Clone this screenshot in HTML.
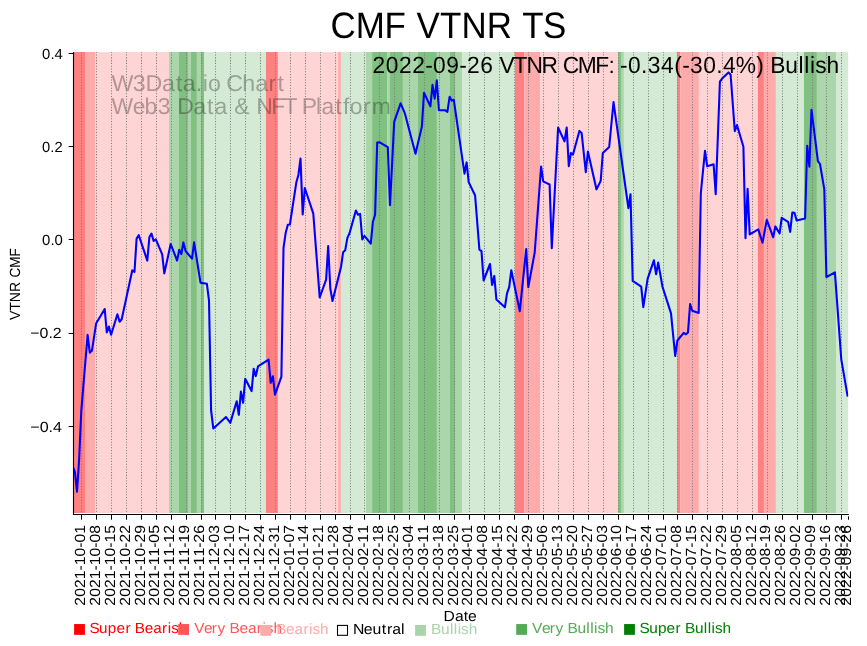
<!DOCTYPE html><html><head><meta charset="utf-8"><style>html,body{margin:0;padding:0;background:#fff;width:867px;height:646px;overflow:hidden}svg{display:block;will-change:transform}text{font-family:'Liberation Sans',sans-serif;text-rendering:geometricPrecision}</style></head><body>
<svg width="867" height="646" viewBox="0 0 867 646">
<rect x="0" y="0" width="867" height="646" fill="#fff"/>
<rect x="73.50" y="52.0" width="11.50" height="461.00" fill="#ff8080"/>
<rect x="85.00" y="52.0" width="10.00" height="461.00" fill="#ffabab"/>
<rect x="95.00" y="52.0" width="74.05" height="461.00" fill="#ffd4d4"/>
<rect x="169.05" y="52.0" width="9.98" height="461.00" fill="#abd5ab"/>
<rect x="179.03" y="52.0" width="8.94" height="461.00" fill="#80c080"/>
<rect x="187.97" y="52.0" width="3.06" height="461.00" fill="#abd5ab"/>
<rect x="191.03" y="52.0" width="5.87" height="461.00" fill="#80c080"/>
<rect x="196.90" y="52.0" width="4.10" height="461.00" fill="#abd5ab"/>
<rect x="201.00" y="52.0" width="3.00" height="461.00" fill="#80c080"/>
<rect x="204.00" y="52.0" width="62.00" height="461.00" fill="#d4ead4"/>
<rect x="266.00" y="52.0" width="11.90" height="461.00" fill="#ff8080"/>
<rect x="277.90" y="52.0" width="60.20" height="461.00" fill="#ffd4d4"/>
<rect x="338.10" y="52.0" width="2.80" height="461.00" fill="#ffabab"/>
<rect x="340.90" y="52.0" width="25.10" height="461.00" fill="#d4ead4"/>
<rect x="366.00" y="52.0" width="6.10" height="461.00" fill="#abd5ab"/>
<rect x="372.10" y="52.0" width="15.00" height="461.00" fill="#80c080"/>
<rect x="387.10" y="52.0" width="2.90" height="461.00" fill="#abd5ab"/>
<rect x="390.00" y="52.0" width="12.90" height="461.00" fill="#80c080"/>
<rect x="402.90" y="52.0" width="15.10" height="461.00" fill="#abd5ab"/>
<rect x="418.00" y="52.0" width="18.90" height="461.00" fill="#80c080"/>
<rect x="436.90" y="52.0" width="13.10" height="461.00" fill="#abd5ab"/>
<rect x="450.00" y="52.0" width="5.70" height="461.00" fill="#80c080"/>
<rect x="455.70" y="52.0" width="6.40" height="461.00" fill="#abd5ab"/>
<rect x="462.10" y="52.0" width="52.80" height="461.00" fill="#d4ead4"/>
<rect x="514.90" y="52.0" width="9.30" height="461.00" fill="#ff8080"/>
<rect x="524.20" y="52.0" width="15.80" height="461.00" fill="#ffabab"/>
<rect x="540.00" y="52.0" width="78.10" height="461.00" fill="#ffd4d4"/>
<rect x="618.10" y="52.0" width="2.90" height="461.00" fill="#80c080"/>
<rect x="621.00" y="52.0" width="2.90" height="461.00" fill="#abd5ab"/>
<rect x="623.90" y="52.0" width="53.20" height="461.00" fill="#d4ead4"/>
<rect x="677.10" y="52.0" width="3.10" height="461.00" fill="#ff8080"/>
<rect x="680.20" y="52.0" width="18.70" height="461.00" fill="#ffabab"/>
<rect x="698.90" y="52.0" width="59.00" height="461.00" fill="#ffd4d4"/>
<rect x="757.90" y="52.0" width="6.00" height="461.00" fill="#ff8080"/>
<rect x="763.90" y="52.0" width="12.00" height="461.00" fill="#ffabab"/>
<rect x="775.90" y="52.0" width="28.00" height="461.00" fill="#d4ead4"/>
<rect x="803.90" y="52.0" width="13.00" height="461.00" fill="#80c080"/>
<rect x="816.90" y="52.0" width="19.10" height="461.00" fill="#abd5ab"/>
<rect x="836.00" y="52.0" width="12.10" height="461.00" fill="#d4ead4"/>
<text transform="translate(112.11,90.90) scale(1.0120,1)" x="-0.66 20.52 33.09 49.23 62.77 69.92 82.69 89.46 94.78 107.55 112.91 128.52 141.36 154.46 163.36" y="0" font-size="22.96" fill="#000000" fill-opacity="0.3">W3Data.io Chart</text>
<text transform="translate(112.11,113.80) scale(0.9985,1)" x="-0.52 20.66 32.48 45.74 58.89 65.14 81.47 95.15 102.44 115.34 122.32 138.24 144.26 159.34 171.72 184.86 190.00 204.30 209.76 223.43 231.20 238.06 251.29 260.00" y="0" font-size="22.96" fill="#000000" fill-opacity="0.3">Web3 Data &amp; NFT Platform</text>
<line x1="81.50" y1="513.0" x2="81.50" y2="52.0" stroke="#7c7c7c" stroke-width="1.04" stroke-dasharray="1.04 1.725" stroke-dashoffset="1.6"/>
<line x1="96.50" y1="513.0" x2="96.50" y2="52.0" stroke="#7c7c7c" stroke-width="1.04" stroke-dasharray="1.04 1.725" stroke-dashoffset="1.6"/>
<line x1="111.50" y1="513.0" x2="111.50" y2="52.0" stroke="#7c7c7c" stroke-width="1.04" stroke-dasharray="1.04 1.725" stroke-dashoffset="1.6"/>
<line x1="126.50" y1="513.0" x2="126.50" y2="52.0" stroke="#7c7c7c" stroke-width="1.04" stroke-dasharray="1.04 1.725" stroke-dashoffset="1.6"/>
<line x1="141.50" y1="513.0" x2="141.50" y2="52.0" stroke="#7c7c7c" stroke-width="1.04" stroke-dasharray="1.04 1.725" stroke-dashoffset="1.6"/>
<line x1="156.50" y1="513.0" x2="156.50" y2="52.0" stroke="#7c7c7c" stroke-width="1.04" stroke-dasharray="1.04 1.725" stroke-dashoffset="1.6"/>
<line x1="171.50" y1="513.0" x2="171.50" y2="52.0" stroke="#7c7c7c" stroke-width="1.04" stroke-dasharray="1.04 1.725" stroke-dashoffset="1.6"/>
<line x1="186.50" y1="513.0" x2="186.50" y2="52.0" stroke="#7c7c7c" stroke-width="1.04" stroke-dasharray="1.04 1.725" stroke-dashoffset="1.6"/>
<line x1="201.50" y1="513.0" x2="201.50" y2="52.0" stroke="#7c7c7c" stroke-width="1.04" stroke-dasharray="1.04 1.725" stroke-dashoffset="1.6"/>
<line x1="215.50" y1="513.0" x2="215.50" y2="52.0" stroke="#7c7c7c" stroke-width="1.04" stroke-dasharray="1.04 1.725" stroke-dashoffset="1.6"/>
<line x1="230.50" y1="513.0" x2="230.50" y2="52.0" stroke="#7c7c7c" stroke-width="1.04" stroke-dasharray="1.04 1.725" stroke-dashoffset="1.6"/>
<line x1="245.50" y1="513.0" x2="245.50" y2="52.0" stroke="#7c7c7c" stroke-width="1.04" stroke-dasharray="1.04 1.725" stroke-dashoffset="1.6"/>
<line x1="260.50" y1="513.0" x2="260.50" y2="52.0" stroke="#7c7c7c" stroke-width="1.04" stroke-dasharray="1.04 1.725" stroke-dashoffset="1.6"/>
<line x1="275.50" y1="513.0" x2="275.50" y2="52.0" stroke="#7c7c7c" stroke-width="1.04" stroke-dasharray="1.04 1.725" stroke-dashoffset="1.6"/>
<line x1="290.50" y1="513.0" x2="290.50" y2="52.0" stroke="#7c7c7c" stroke-width="1.04" stroke-dasharray="1.04 1.725" stroke-dashoffset="1.6"/>
<line x1="305.50" y1="513.0" x2="305.50" y2="52.0" stroke="#7c7c7c" stroke-width="1.04" stroke-dasharray="1.04 1.725" stroke-dashoffset="1.6"/>
<line x1="320.50" y1="513.0" x2="320.50" y2="52.0" stroke="#7c7c7c" stroke-width="1.04" stroke-dasharray="1.04 1.725" stroke-dashoffset="1.6"/>
<line x1="335.50" y1="513.0" x2="335.50" y2="52.0" stroke="#7c7c7c" stroke-width="1.04" stroke-dasharray="1.04 1.725" stroke-dashoffset="1.6"/>
<line x1="350.50" y1="513.0" x2="350.50" y2="52.0" stroke="#7c7c7c" stroke-width="1.04" stroke-dasharray="1.04 1.725" stroke-dashoffset="1.6"/>
<line x1="364.50" y1="513.0" x2="364.50" y2="52.0" stroke="#7c7c7c" stroke-width="1.04" stroke-dasharray="1.04 1.725" stroke-dashoffset="1.6"/>
<line x1="379.50" y1="513.0" x2="379.50" y2="52.0" stroke="#7c7c7c" stroke-width="1.04" stroke-dasharray="1.04 1.725" stroke-dashoffset="1.6"/>
<line x1="394.50" y1="513.0" x2="394.50" y2="52.0" stroke="#7c7c7c" stroke-width="1.04" stroke-dasharray="1.04 1.725" stroke-dashoffset="1.6"/>
<line x1="409.50" y1="513.0" x2="409.50" y2="52.0" stroke="#7c7c7c" stroke-width="1.04" stroke-dasharray="1.04 1.725" stroke-dashoffset="1.6"/>
<line x1="424.50" y1="513.0" x2="424.50" y2="52.0" stroke="#7c7c7c" stroke-width="1.04" stroke-dasharray="1.04 1.725" stroke-dashoffset="1.6"/>
<line x1="439.50" y1="513.0" x2="439.50" y2="52.0" stroke="#7c7c7c" stroke-width="1.04" stroke-dasharray="1.04 1.725" stroke-dashoffset="1.6"/>
<line x1="454.50" y1="513.0" x2="454.50" y2="52.0" stroke="#7c7c7c" stroke-width="1.04" stroke-dasharray="1.04 1.725" stroke-dashoffset="1.6"/>
<line x1="469.50" y1="513.0" x2="469.50" y2="52.0" stroke="#7c7c7c" stroke-width="1.04" stroke-dasharray="1.04 1.725" stroke-dashoffset="1.6"/>
<line x1="484.50" y1="513.0" x2="484.50" y2="52.0" stroke="#7c7c7c" stroke-width="1.04" stroke-dasharray="1.04 1.725" stroke-dashoffset="1.6"/>
<line x1="499.50" y1="513.0" x2="499.50" y2="52.0" stroke="#7c7c7c" stroke-width="1.04" stroke-dasharray="1.04 1.725" stroke-dashoffset="1.6"/>
<line x1="514.50" y1="513.0" x2="514.50" y2="52.0" stroke="#7c7c7c" stroke-width="1.04" stroke-dasharray="1.04 1.725" stroke-dashoffset="1.6"/>
<line x1="528.50" y1="513.0" x2="528.50" y2="52.0" stroke="#7c7c7c" stroke-width="1.04" stroke-dasharray="1.04 1.725" stroke-dashoffset="1.6"/>
<line x1="543.50" y1="513.0" x2="543.50" y2="52.0" stroke="#7c7c7c" stroke-width="1.04" stroke-dasharray="1.04 1.725" stroke-dashoffset="1.6"/>
<line x1="558.50" y1="513.0" x2="558.50" y2="52.0" stroke="#7c7c7c" stroke-width="1.04" stroke-dasharray="1.04 1.725" stroke-dashoffset="1.6"/>
<line x1="573.50" y1="513.0" x2="573.50" y2="52.0" stroke="#7c7c7c" stroke-width="1.04" stroke-dasharray="1.04 1.725" stroke-dashoffset="1.6"/>
<line x1="588.50" y1="513.0" x2="588.50" y2="52.0" stroke="#7c7c7c" stroke-width="1.04" stroke-dasharray="1.04 1.725" stroke-dashoffset="1.6"/>
<line x1="603.50" y1="513.0" x2="603.50" y2="52.0" stroke="#7c7c7c" stroke-width="1.04" stroke-dasharray="1.04 1.725" stroke-dashoffset="1.6"/>
<line x1="618.50" y1="513.0" x2="618.50" y2="52.0" stroke="#7c7c7c" stroke-width="1.04" stroke-dasharray="1.04 1.725" stroke-dashoffset="1.6"/>
<line x1="633.50" y1="513.0" x2="633.50" y2="52.0" stroke="#7c7c7c" stroke-width="1.04" stroke-dasharray="1.04 1.725" stroke-dashoffset="1.6"/>
<line x1="648.50" y1="513.0" x2="648.50" y2="52.0" stroke="#7c7c7c" stroke-width="1.04" stroke-dasharray="1.04 1.725" stroke-dashoffset="1.6"/>
<line x1="663.50" y1="513.0" x2="663.50" y2="52.0" stroke="#7c7c7c" stroke-width="1.04" stroke-dasharray="1.04 1.725" stroke-dashoffset="1.6"/>
<line x1="677.50" y1="513.0" x2="677.50" y2="52.0" stroke="#7c7c7c" stroke-width="1.04" stroke-dasharray="1.04 1.725" stroke-dashoffset="1.6"/>
<line x1="692.50" y1="513.0" x2="692.50" y2="52.0" stroke="#7c7c7c" stroke-width="1.04" stroke-dasharray="1.04 1.725" stroke-dashoffset="1.6"/>
<line x1="707.50" y1="513.0" x2="707.50" y2="52.0" stroke="#7c7c7c" stroke-width="1.04" stroke-dasharray="1.04 1.725" stroke-dashoffset="1.6"/>
<line x1="722.50" y1="513.0" x2="722.50" y2="52.0" stroke="#7c7c7c" stroke-width="1.04" stroke-dasharray="1.04 1.725" stroke-dashoffset="1.6"/>
<line x1="737.50" y1="513.0" x2="737.50" y2="52.0" stroke="#7c7c7c" stroke-width="1.04" stroke-dasharray="1.04 1.725" stroke-dashoffset="1.6"/>
<line x1="752.50" y1="513.0" x2="752.50" y2="52.0" stroke="#7c7c7c" stroke-width="1.04" stroke-dasharray="1.04 1.725" stroke-dashoffset="1.6"/>
<line x1="767.50" y1="513.0" x2="767.50" y2="52.0" stroke="#7c7c7c" stroke-width="1.04" stroke-dasharray="1.04 1.725" stroke-dashoffset="1.6"/>
<line x1="782.50" y1="513.0" x2="782.50" y2="52.0" stroke="#7c7c7c" stroke-width="1.04" stroke-dasharray="1.04 1.725" stroke-dashoffset="1.6"/>
<line x1="797.50" y1="513.0" x2="797.50" y2="52.0" stroke="#7c7c7c" stroke-width="1.04" stroke-dasharray="1.04 1.725" stroke-dashoffset="1.6"/>
<line x1="812.50" y1="513.0" x2="812.50" y2="52.0" stroke="#7c7c7c" stroke-width="1.04" stroke-dasharray="1.04 1.725" stroke-dashoffset="1.6"/>
<line x1="826.50" y1="513.0" x2="826.50" y2="52.0" stroke="#7c7c7c" stroke-width="1.04" stroke-dasharray="1.04 1.725" stroke-dashoffset="1.6"/>
<line x1="841.50" y1="513.0" x2="841.50" y2="52.0" stroke="#7c7c7c" stroke-width="1.04" stroke-dasharray="1.04 1.725" stroke-dashoffset="1.6"/>
<clipPath id="ax"><rect x="73.5" y="52.0" width="774.8" height="462.0"/></clipPath>
<path d="M72.7,466.0 L74.9,472.0 L77.0,491.8 L79.1,460.0 L81.3,410.8 L87.6,334.8 L89.8,352.6 L91.9,350.8 L96.2,323.2 L100.4,316.2 L104.7,309.0 L106.8,332.5 L108.9,326.6 L111.1,334.8 L117.4,314.2 L119.6,321.7 L121.7,319.3 L132.3,270.3 L134.5,271.9 L136.6,238.6 L138.7,235.2 L140.9,241.7 L147.3,260.6 L149.4,237.0 L151.5,233.6 L153.6,240.9 L155.8,239.3 L162.2,254.4 L164.3,273.4 L170.7,244.0 L177.1,260.6 L179.2,249.7 L181.3,254.1 L183.4,242.4 L185.6,251.0 L192.0,258.7 L194.1,242.4 L200.5,282.7 L206.9,283.8 L209.0,300.5 L211.1,410.5 L213.3,428.4 L226.0,417.0 L230.3,422.9 L236.7,401.2 L238.8,414.8 L240.9,391.6 L243.1,402.8 L245.2,378.8 L251.6,391.1 L253.7,368.7 L255.8,376.1 L258.0,366.4 L268.6,359.6 L270.7,382.8 L272.9,376.2 L275.0,394.7 L281.4,376.6 L283.5,248.0 L285.6,233.3 L287.8,224.8 L289.9,224.5 L296.3,182.6 L298.4,174.9 L300.5,158.6 L302.7,214.4 L304.8,188.0 L313.3,213.6 L319.7,297.5 L326.1,279.7 L328.2,246.1 L330.3,288.5 L332.5,301.0 L341.0,267.0 L343.1,252.3 L345.2,250.3 L347.4,237.9 L349.5,233.3 L355.9,210.5 L358.0,214.7 L360.1,213.9 L362.3,239.5 L364.4,235.9 L370.8,243.7 L372.9,221.7 L375.1,214.7 L377.2,142.5 L379.3,142.2 L387.8,147.2 L390.0,205.2 L394.2,121.9 L400.6,103.3 L404.9,113.4 L415.5,153.7 L421.9,126.6 L424.0,92.8 L430.4,106.4 L432.5,84.8 L434.7,98.7 L436.8,80.4 L438.9,110.3 L445.3,110.3 L447.4,111.9 L449.6,96.8 L451.7,100.6 L453.8,99.9 L464.5,173.6 L466.6,162.4 L468.7,182.1 L475.1,195.5 L479.4,249.7 L481.5,251.2 L483.6,280.5 L490.0,264.0 L492.1,284.9 L494.3,275.9 L496.4,299.6 L504.9,307.3 L507.0,293.4 L509.2,287.2 L511.3,270.2 L519.8,311.2 L526.2,249.0 L528.3,287.2 L534.7,252.5 L541.1,166.5 L543.2,181.4 L549.6,184.5 L551.8,248.2 L558.1,127.5 L564.5,141.4 L566.7,127.5 L568.8,166.2 L570.9,153.0 L573.0,154.6 L579.4,130.9 L581.6,132.9 L585.8,172.1 L587.9,151.5 L596.5,189.4 L600.7,180.9 L602.8,153.0 L609.2,147.0 L613.5,102.0 L628.4,208.2 L630.5,194.3 L632.7,280.9 L641.2,286.6 L643.3,307.2 L647.6,278.9 L653.9,260.3 L656.1,274.2 L658.2,262.6 L662.5,286.8 L671.0,313.4 L675.2,356.0 L677.4,340.5 L683.7,332.8 L685.9,334.3 L688.0,332.4 L690.1,304.1 L692.3,310.8 L698.7,312.9 L700.8,193.3 L705.0,150.7 L707.2,166.3 L713.6,164.2 L715.7,194.1 L719.9,81.7 L722.1,78.6 L728.5,72.4 L730.6,74.7 L734.8,131.2 L737.0,125.0 L743.4,146.7 L745.5,238.2 L747.6,188.7 L749.7,234.4 L758.3,229.4 L762.5,242.8 L766.8,219.9 L773.2,237.3 L775.3,226.4 L779.6,233.4 L781.7,217.9 L788.1,221.8 L790.2,231.9 L792.3,212.5 L794.5,212.8 L796.6,220.6 L805.1,218.4 L807.2,145.7 L809.4,166.6 L811.5,109.8 L817.9,161.2 L820.0,164.0 L824.3,189.3 L826.4,277.1 L834.9,272.3 L841.3,359.6 L847.7,396.6" fill="none" stroke="#0000ff" stroke-width="2.08" stroke-linejoin="round" stroke-linecap="butt" clip-path="url(#ax)"/>
<line x1="73.5" y1="52.0" x2="73.5" y2="515.05" stroke="#000" stroke-width="1.11"/>
<line x1="72.95" y1="514.5" x2="848.8499999999999" y2="514.5" stroke="#000" stroke-width="1.11"/>
<line x1="68.64" y1="53.50" x2="73.5" y2="53.50" stroke="#000" stroke-width="1"/>
<text x="42.10" y="58.90" font-size="14.72" fill="#000" textLength="20.71" lengthAdjust="spacingAndGlyphs" >0.4</text>
<line x1="68.64" y1="146.50" x2="73.5" y2="146.50" stroke="#000" stroke-width="1"/>
<text x="42.11" y="151.90" font-size="14.72" fill="#000" textLength="20.46" lengthAdjust="spacingAndGlyphs" >0.2</text>
<line x1="68.64" y1="239.50" x2="73.5" y2="239.50" stroke="#000" stroke-width="1"/>
<text x="42.10" y="244.90" font-size="14.72" fill="#000" textLength="20.73" lengthAdjust="spacingAndGlyphs" >0.0</text>
<line x1="68.64" y1="333.50" x2="73.5" y2="333.50" stroke="#000" stroke-width="1"/>
<text x="30.30" y="337.90" font-size="14.72" fill="#000" textLength="31.44" lengthAdjust="spacingAndGlyphs" >−0.2</text>
<line x1="68.64" y1="426.50" x2="73.5" y2="426.50" stroke="#000" stroke-width="1"/>
<text x="30.30" y="431.80" font-size="14.72" fill="#000" textLength="31.66" lengthAdjust="spacingAndGlyphs" >−0.4</text>
<line x1="81.50" y1="514.5" x2="81.50" y2="519.7" stroke="#000" stroke-width="1.04"/>
<text transform="translate(84.93,605.71) rotate(-90) scale(1.0623,1)" x="0.07 8.39 16.70 25.02 33.18 38.06 46.38 54.54 59.42 67.73" y="0" font-size="14.72" fill="#000" >2021-10-01</text>
<line x1="96.50" y1="514.5" x2="96.50" y2="519.7" stroke="#000" stroke-width="1.04"/>
<text transform="translate(99.83,605.71) rotate(-90) scale(1.0654,1)" x="0.05 8.35 16.64 24.94 33.08 37.93 46.23 54.37 59.23 67.52" y="0" font-size="14.72" fill="#000" >2021-10-08</text>
<line x1="111.50" y1="514.5" x2="111.50" y2="519.7" stroke="#000" stroke-width="1.04"/>
<text transform="translate(114.74,605.71) rotate(-90) scale(1.0616,1)" x="0.07 8.39 16.72 25.04 33.21 38.09 46.41 54.57 59.45 67.78" y="0" font-size="14.72" fill="#000" >2021-10-15</text>
<line x1="126.50" y1="514.5" x2="126.50" y2="519.7" stroke="#000" stroke-width="1.04"/>
<text transform="translate(129.64,605.71) rotate(-90) scale(1.0614,1)" x="0.07 8.40 16.72 25.05 33.21 38.10 46.42 54.59 59.47 67.79" y="0" font-size="14.72" fill="#000" >2021-10-22</text>
<line x1="141.50" y1="514.5" x2="141.50" y2="519.7" stroke="#000" stroke-width="1.04"/>
<text transform="translate(144.54,605.71) rotate(-90) scale(1.0655,1)" x="0.05 8.35 16.64 24.93 33.08 37.93 46.23 54.37 59.22 67.52" y="0" font-size="14.72" fill="#000" >2021-10-29</text>
<line x1="156.50" y1="514.5" x2="156.50" y2="519.7" stroke="#000" stroke-width="1.04"/>
<text transform="translate(159.44,605.71) rotate(-90) scale(1.0777,1)" x="0.01 8.21 16.41 24.61 32.67 37.46 45.66 53.72 58.51 66.71" y="0" font-size="14.72" fill="#000" >2021-11-05</text>
<line x1="171.50" y1="514.5" x2="171.50" y2="519.7" stroke="#000" stroke-width="1.04"/>
<text transform="translate(174.35,605.71) rotate(-90) scale(1.0775,1)" x="0.01 8.21 16.41 24.61 32.68 37.46 45.67 53.73 58.52 66.72" y="0" font-size="14.72" fill="#000" >2021-11-12</text>
<line x1="186.50" y1="514.5" x2="186.50" y2="519.7" stroke="#000" stroke-width="1.04"/>
<text transform="translate(189.25,605.71) rotate(-90) scale(1.0816,1)" x="-0.01 8.16 16.33 24.50 32.54 37.30 45.47 53.52 58.28 66.45" y="0" font-size="14.72" fill="#000" >2021-11-19</text>
<line x1="201.50" y1="514.5" x2="201.50" y2="519.7" stroke="#000" stroke-width="1.04"/>
<text transform="translate(204.15,605.71) rotate(-90) scale(1.0825,1)" x="-0.01 8.15 16.31 24.48 32.52 37.27 45.43 53.47 58.23 66.39" y="0" font-size="14.72" fill="#000" >2021-11-26</text>
<line x1="215.50" y1="514.5" x2="215.50" y2="519.7" stroke="#000" stroke-width="1.04"/>
<text transform="translate(219.05,605.71) rotate(-90) scale(1.0635,1)" x="0.06 8.37 16.68 24.99 33.14 38.01 46.32 54.47 59.34 67.65" y="0" font-size="14.72" fill="#000" >2021-12-03</text>
<line x1="230.50" y1="514.5" x2="230.50" y2="519.7" stroke="#000" stroke-width="1.04"/>
<text transform="translate(233.96,605.71) rotate(-90) scale(1.0648,1)" x="0.06 8.36 16.65 24.95 33.10 37.96 46.26 54.40 59.26 67.56" y="0" font-size="14.72" fill="#000" >2021-12-10</text>
<line x1="245.50" y1="514.5" x2="245.50" y2="519.7" stroke="#000" stroke-width="1.04"/>
<text transform="translate(248.86,605.71) rotate(-90) scale(1.0637,1)" x="0.06 8.37 16.68 24.98 33.13 38.00 46.31 54.46 59.33 67.64" y="0" font-size="14.72" fill="#000" >2021-12-17</text>
<line x1="260.50" y1="514.5" x2="260.50" y2="519.7" stroke="#000" stroke-width="1.04"/>
<text transform="translate(263.76,605.71) rotate(-90) scale(1.0646,1)" x="0.06 8.36 16.66 24.96 33.11 37.97 46.27 54.41 59.28 67.58" y="0" font-size="14.72" fill="#000" >2021-12-24</text>
<line x1="275.50" y1="514.5" x2="275.50" y2="519.7" stroke="#000" stroke-width="1.04"/>
<text transform="translate(278.66,605.71) rotate(-90) scale(1.0623,1)" x="0.07 8.39 16.70 25.02 33.18 38.06 46.38 54.54 59.42 67.73" y="0" font-size="14.72" fill="#000" >2021-12-31</text>
<line x1="290.50" y1="514.5" x2="290.50" y2="519.7" stroke="#000" stroke-width="1.04"/>
<text transform="translate(293.57,605.71) rotate(-90) scale(1.0637,1)" x="0.06 8.37 16.68 24.98 33.13 38.00 46.31 54.46 59.33 67.64" y="0" font-size="14.72" fill="#000" >2022-01-07</text>
<line x1="305.50" y1="514.5" x2="305.50" y2="519.7" stroke="#000" stroke-width="1.04"/>
<text transform="translate(308.47,605.71) rotate(-90) scale(1.0646,1)" x="0.06 8.36 16.66 24.96 33.11 37.97 46.27 54.41 59.28 67.58" y="0" font-size="14.72" fill="#000" >2022-01-14</text>
<line x1="320.50" y1="514.5" x2="320.50" y2="519.7" stroke="#000" stroke-width="1.04"/>
<text transform="translate(323.37,605.71) rotate(-90) scale(1.0623,1)" x="0.07 8.39 16.70 25.02 33.18 38.06 46.38 54.54 59.42 67.73" y="0" font-size="14.72" fill="#000" >2022-01-21</text>
<line x1="335.50" y1="514.5" x2="335.50" y2="519.7" stroke="#000" stroke-width="1.04"/>
<text transform="translate(338.28,605.71) rotate(-90) scale(1.0654,1)" x="0.05 8.35 16.64 24.94 33.08 37.93 46.23 54.37 59.23 67.52" y="0" font-size="14.72" fill="#000" >2022-01-28</text>
<line x1="350.50" y1="514.5" x2="350.50" y2="519.7" stroke="#000" stroke-width="1.04"/>
<text transform="translate(353.18,605.71) rotate(-90) scale(1.0646,1)" x="0.06 8.36 16.66 24.96 33.11 37.97 46.27 54.41 59.28 67.58" y="0" font-size="14.72" fill="#000" >2022-02-04</text>
<line x1="364.50" y1="514.5" x2="364.50" y2="519.7" stroke="#000" stroke-width="1.04"/>
<text transform="translate(368.08,605.71) rotate(-90) scale(1.0784,1)" x="0.00 8.20 16.39 24.59 32.65 37.43 45.62 53.69 58.47 66.66" y="0" font-size="14.72" fill="#000" >2022-02-11</text>
<line x1="379.50" y1="514.5" x2="379.50" y2="519.7" stroke="#000" stroke-width="1.04"/>
<text transform="translate(382.98,605.71) rotate(-90) scale(1.0654,1)" x="0.05 8.35 16.64 24.94 33.08 37.93 46.23 54.37 59.23 67.52" y="0" font-size="14.72" fill="#000" >2022-02-18</text>
<line x1="394.50" y1="514.5" x2="394.50" y2="519.7" stroke="#000" stroke-width="1.04"/>
<text transform="translate(397.89,605.71) rotate(-90) scale(1.0616,1)" x="0.07 8.39 16.72 25.04 33.21 38.09 46.41 54.57 59.45 67.78" y="0" font-size="14.72" fill="#000" >2022-02-25</text>
<line x1="409.50" y1="514.5" x2="409.50" y2="519.7" stroke="#000" stroke-width="1.04"/>
<text transform="translate(412.79,605.71) rotate(-90) scale(1.0646,1)" x="0.06 8.36 16.66 24.96 33.11 37.97 46.27 54.41 59.28 67.58" y="0" font-size="14.72" fill="#000" >2022-03-04</text>
<line x1="424.50" y1="514.5" x2="424.50" y2="519.7" stroke="#000" stroke-width="1.04"/>
<text transform="translate(427.69,605.71) rotate(-90) scale(1.0784,1)" x="0.00 8.20 16.39 24.59 32.65 37.43 45.62 53.69 58.47 66.66" y="0" font-size="14.72" fill="#000" >2022-03-11</text>
<line x1="439.50" y1="514.5" x2="439.50" y2="519.7" stroke="#000" stroke-width="1.04"/>
<text transform="translate(442.59,605.71) rotate(-90) scale(1.0654,1)" x="0.05 8.35 16.64 24.94 33.08 37.93 46.23 54.37 59.23 67.52" y="0" font-size="14.72" fill="#000" >2022-03-18</text>
<line x1="454.50" y1="514.5" x2="454.50" y2="519.7" stroke="#000" stroke-width="1.04"/>
<text transform="translate(457.50,605.71) rotate(-90) scale(1.0616,1)" x="0.07 8.39 16.72 25.04 33.21 38.09 46.41 54.57 59.45 67.78" y="0" font-size="14.72" fill="#000" >2022-03-25</text>
<line x1="469.50" y1="514.5" x2="469.50" y2="519.7" stroke="#000" stroke-width="1.04"/>
<text transform="translate(472.40,605.71) rotate(-90) scale(1.0623,1)" x="0.07 8.39 16.70 25.02 33.18 38.06 46.38 54.54 59.42 67.73" y="0" font-size="14.72" fill="#000" >2022-04-01</text>
<line x1="484.50" y1="514.5" x2="484.50" y2="519.7" stroke="#000" stroke-width="1.04"/>
<text transform="translate(487.30,605.71) rotate(-90) scale(1.0654,1)" x="0.05 8.35 16.64 24.94 33.08 37.93 46.23 54.37 59.23 67.52" y="0" font-size="14.72" fill="#000" >2022-04-08</text>
<line x1="499.50" y1="514.5" x2="499.50" y2="519.7" stroke="#000" stroke-width="1.04"/>
<text transform="translate(502.20,605.71) rotate(-90) scale(1.0616,1)" x="0.07 8.39 16.72 25.04 33.21 38.09 46.41 54.57 59.45 67.78" y="0" font-size="14.72" fill="#000" >2022-04-15</text>
<line x1="514.50" y1="514.5" x2="514.50" y2="519.7" stroke="#000" stroke-width="1.04"/>
<text transform="translate(517.11,605.71) rotate(-90) scale(1.0614,1)" x="0.07 8.40 16.72 25.05 33.21 38.10 46.42 54.59 59.47 67.79" y="0" font-size="14.72" fill="#000" >2022-04-22</text>
<line x1="528.50" y1="514.5" x2="528.50" y2="519.7" stroke="#000" stroke-width="1.04"/>
<text transform="translate(532.01,605.71) rotate(-90) scale(1.0655,1)" x="0.05 8.35 16.64 24.93 33.08 37.93 46.23 54.37 59.22 67.52" y="0" font-size="14.72" fill="#000" >2022-04-29</text>
<line x1="543.50" y1="514.5" x2="543.50" y2="519.7" stroke="#000" stroke-width="1.04"/>
<text transform="translate(546.91,605.71) rotate(-90) scale(1.0664,1)" x="0.05 8.34 16.62 24.91 33.05 37.90 46.18 54.32 59.17 67.46" y="0" font-size="14.72" fill="#000" >2022-05-06</text>
<line x1="558.50" y1="514.5" x2="558.50" y2="519.7" stroke="#000" stroke-width="1.04"/>
<text transform="translate(561.81,605.71) rotate(-90) scale(1.0635,1)" x="0.06 8.37 16.68 24.99 33.14 38.01 46.32 54.47 59.34 67.65" y="0" font-size="14.72" fill="#000" >2022-05-13</text>
<line x1="573.50" y1="514.5" x2="573.50" y2="519.7" stroke="#000" stroke-width="1.04"/>
<text transform="translate(576.72,605.71) rotate(-90) scale(1.0648,1)" x="0.06 8.36 16.65 24.95 33.10 37.96 46.26 54.40 59.26 67.56" y="0" font-size="14.72" fill="#000" >2022-05-20</text>
<line x1="588.50" y1="514.5" x2="588.50" y2="519.7" stroke="#000" stroke-width="1.04"/>
<text transform="translate(591.62,605.71) rotate(-90) scale(1.0637,1)" x="0.06 8.37 16.68 24.98 33.13 38.00 46.31 54.46 59.33 67.64" y="0" font-size="14.72" fill="#000" >2022-05-27</text>
<line x1="603.50" y1="514.5" x2="603.50" y2="519.7" stroke="#000" stroke-width="1.04"/>
<text transform="translate(606.52,605.71) rotate(-90) scale(1.0635,1)" x="0.06 8.37 16.68 24.99 33.14 38.01 46.32 54.47 59.34 67.65" y="0" font-size="14.72" fill="#000" >2022-06-03</text>
<line x1="618.50" y1="514.5" x2="618.50" y2="519.7" stroke="#000" stroke-width="1.04"/>
<text transform="translate(621.43,605.71) rotate(-90) scale(1.0648,1)" x="0.06 8.36 16.65 24.95 33.10 37.96 46.26 54.40 59.26 67.56" y="0" font-size="14.72" fill="#000" >2022-06-10</text>
<line x1="633.50" y1="514.5" x2="633.50" y2="519.7" stroke="#000" stroke-width="1.04"/>
<text transform="translate(636.33,605.71) rotate(-90) scale(1.0637,1)" x="0.06 8.37 16.68 24.98 33.13 38.00 46.31 54.46 59.33 67.64" y="0" font-size="14.72" fill="#000" >2022-06-17</text>
<line x1="648.50" y1="514.5" x2="648.50" y2="519.7" stroke="#000" stroke-width="1.04"/>
<text transform="translate(651.23,605.71) rotate(-90) scale(1.0646,1)" x="0.06 8.36 16.66 24.96 33.11 37.97 46.27 54.41 59.28 67.58" y="0" font-size="14.72" fill="#000" >2022-06-24</text>
<line x1="663.50" y1="514.5" x2="663.50" y2="519.7" stroke="#000" stroke-width="1.04"/>
<text transform="translate(666.13,605.71) rotate(-90) scale(1.0623,1)" x="0.07 8.39 16.70 25.02 33.18 38.06 46.38 54.54 59.42 67.73" y="0" font-size="14.72" fill="#000" >2022-07-01</text>
<line x1="677.50" y1="514.5" x2="677.50" y2="519.7" stroke="#000" stroke-width="1.04"/>
<text transform="translate(681.04,605.71) rotate(-90) scale(1.0654,1)" x="0.05 8.35 16.64 24.94 33.08 37.93 46.23 54.37 59.23 67.52" y="0" font-size="14.72" fill="#000" >2022-07-08</text>
<line x1="692.50" y1="514.5" x2="692.50" y2="519.7" stroke="#000" stroke-width="1.04"/>
<text transform="translate(695.94,605.71) rotate(-90) scale(1.0616,1)" x="0.07 8.39 16.72 25.04 33.21 38.09 46.41 54.57 59.45 67.78" y="0" font-size="14.72" fill="#000" >2022-07-15</text>
<line x1="707.50" y1="514.5" x2="707.50" y2="519.7" stroke="#000" stroke-width="1.04"/>
<text transform="translate(710.84,605.71) rotate(-90) scale(1.0614,1)" x="0.07 8.40 16.72 25.05 33.21 38.10 46.42 54.59 59.47 67.79" y="0" font-size="14.72" fill="#000" >2022-07-22</text>
<line x1="722.50" y1="514.5" x2="722.50" y2="519.7" stroke="#000" stroke-width="1.04"/>
<text transform="translate(725.74,605.71) rotate(-90) scale(1.0655,1)" x="0.05 8.35 16.64 24.93 33.08 37.93 46.23 54.37 59.22 67.52" y="0" font-size="14.72" fill="#000" >2022-07-29</text>
<line x1="737.50" y1="514.5" x2="737.50" y2="519.7" stroke="#000" stroke-width="1.04"/>
<text transform="translate(740.65,605.71) rotate(-90) scale(1.0616,1)" x="0.07 8.39 16.72 25.04 33.21 38.09 46.41 54.57 59.45 67.78" y="0" font-size="14.72" fill="#000" >2022-08-05</text>
<line x1="752.50" y1="514.5" x2="752.50" y2="519.7" stroke="#000" stroke-width="1.04"/>
<text transform="translate(755.55,605.71) rotate(-90) scale(1.0614,1)" x="0.07 8.40 16.72 25.05 33.21 38.10 46.42 54.59 59.47 67.79" y="0" font-size="14.72" fill="#000" >2022-08-12</text>
<line x1="767.50" y1="514.5" x2="767.50" y2="519.7" stroke="#000" stroke-width="1.04"/>
<text transform="translate(770.45,605.71) rotate(-90) scale(1.0655,1)" x="0.05 8.35 16.64 24.93 33.08 37.93 46.23 54.37 59.22 67.52" y="0" font-size="14.72" fill="#000" >2022-08-19</text>
<line x1="782.50" y1="514.5" x2="782.50" y2="519.7" stroke="#000" stroke-width="1.04"/>
<text transform="translate(785.35,605.71) rotate(-90) scale(1.0664,1)" x="0.05 8.34 16.62 24.91 33.05 37.90 46.18 54.32 59.17 67.46" y="0" font-size="14.72" fill="#000" >2022-08-26</text>
<line x1="797.50" y1="514.5" x2="797.50" y2="519.7" stroke="#000" stroke-width="1.04"/>
<text transform="translate(800.26,605.71) rotate(-90) scale(1.0614,1)" x="0.07 8.40 16.72 25.05 33.21 38.10 46.42 54.59 59.47 67.79" y="0" font-size="14.72" fill="#000" >2022-09-02</text>
<line x1="812.50" y1="514.5" x2="812.50" y2="519.7" stroke="#000" stroke-width="1.04"/>
<text transform="translate(815.16,605.71) rotate(-90) scale(1.0655,1)" x="0.05 8.35 16.64 24.93 33.08 37.93 46.23 54.37 59.22 67.52" y="0" font-size="14.72" fill="#000" >2022-09-09</text>
<line x1="826.50" y1="514.5" x2="826.50" y2="519.7" stroke="#000" stroke-width="1.04"/>
<text transform="translate(830.06,605.71) rotate(-90) scale(1.0664,1)" x="0.05 8.34 16.62 24.91 33.05 37.90 46.18 54.32 59.17 67.46" y="0" font-size="14.72" fill="#000" >2022-09-16</text>
<line x1="841.50" y1="514.5" x2="841.50" y2="519.7" stroke="#000" stroke-width="1.04"/>
<text transform="translate(844.97,605.71) rotate(-90) scale(1.0635,1)" x="0.06 8.37 16.68 24.99 33.14 38.01 46.32 54.47 59.34 67.65" y="0" font-size="14.72" fill="#000" >2022-09-23</text>
<line x1="848.50" y1="516.3" x2="848.50" y2="519.7" stroke="#000" stroke-width="1.04"/>
<text transform="translate(851.35,605.71) rotate(-90) scale(1.0664,1)" x="0.05 8.34 16.62 24.91 33.05 37.90 46.18 54.32 59.17 67.46" y="0" font-size="14.72" fill="#000" >2022-09-26</text>
<text transform="translate(331.06,37.90) scale(0.9488,1)" x="-0.51 26.02 56.42 78.89 90.06 114.79 137.61 164.01 190.72 201.59 223.35" y="0" font-size="36.79" fill="#000" >CMF VTNR TS</text>
<text transform="translate(372.28,72.70) scale(0.9750,1)" x="0.29 13.88 27.48 41.07 54.33 62.38 75.97 89.23 97.27 110.87 124.32 130.47 144.96 158.17 173.59 189.61 195.26 210.64 228.60 242.24 247.58 254.19 262.23 275.68 282.61 296.21 309.78 317.81 325.85 339.44 352.89 359.83 372.88 393.71 401.91 408.09 423.48 437.13 443.07 449.00 454.29 465.97" y="0" font-size="23.40" fill="#000" >2022-09-26 VTNR CMF: -0.34(-30.4%) Bullish</text>
<text transform="translate(19.9,320.11) rotate(-90)" x="0.03" y="0" font-size="14.72" fill="#000" textLength="38.23" lengthAdjust="spacingAndGlyphs" >VTNR</text>
<text transform="translate(19.9,320.11) rotate(-90)" x="42.53" y="0" font-size="14.72" fill="#000" textLength="29.32" lengthAdjust="spacingAndGlyphs" >CMF</text>
<text x="443.60" y="621.00" font-size="14.72" fill="#000" textLength="33.11" lengthAdjust="spacingAndGlyphs" >Date</text>
<rect x="74.1" y="624.05" width="10.8" height="10.8" fill="#ff0000"/>
<text transform="translate(90.10,632.95) scale(1.0392,1)" x="-0.67 8.63 17.10 25.46 33.96 39.23 43.08 52.59 60.80 69.28 74.70 77.99 85.30" y="0" font-size="14.72" fill="#ff0000" >Super Bearish</text>
<rect x="178.2" y="624.05" width="10.8" height="10.8" fill="#ff5555"/>
<text transform="translate(194.60,632.95) scale(1.0466,1)" x="-0.37 9.07 16.49 21.92 29.59 33.39 42.84 50.98 59.42 64.81 68.06 75.31" y="0" font-size="14.72" fill="#ff5555" >Very Bearish</text>
<rect x="260.3" y="625.00" width="10.8" height="10.8" fill="#ffaaaa"/>
<text transform="translate(276.55,633.90) scale(1.0405,1)" x="-0.33 9.17 17.37 25.84 31.26 34.55 41.84" y="0" font-size="14.72" fill="#ffaaaa" >Bearish</text>
<rect x="337.5" y="625.40" width="10.0" height="9.9" fill="#fff" stroke="#000" stroke-width="1.05"/>
<text transform="translate(353.55,633.90) scale(1.0742,1)" x="-0.48 9.56 17.63 26.31 31.10 36.08 44.29" y="0" font-size="14.72" fill="#000000" >Neutral</text>
<rect x="415.1" y="625.00" width="10.8" height="10.8" fill="#aad4aa"/>
<text transform="translate(431.45,633.90) scale(1.0541,1)" x="-0.39 9.12 17.59 21.25 24.91 28.12 35.32" y="0" font-size="14.72" fill="#aad4aa" >Bullish</text>
<rect x="516.2" y="624.05" width="10.8" height="10.8" fill="#55aa55"/>
<text transform="translate(532.50,632.95) scale(1.0545,1)" x="-0.40 8.97 16.35 21.72 29.35 33.10 42.60 51.07 54.72 58.38 61.60 68.79" y="0" font-size="14.72" fill="#55aa55" >Very Bullish</text>
<rect x="624.1" y="624.05" width="10.8" height="10.8" fill="#008000"/>
<text transform="translate(640.20,632.95) scale(1.0458,1)" x="-0.69 8.55 16.97 25.27 33.73 38.98 42.78 52.36 60.87 64.56 68.25 71.51 78.77" y="0" font-size="14.72" fill="#008000" >Super Bullish</text>
</svg></body></html>
